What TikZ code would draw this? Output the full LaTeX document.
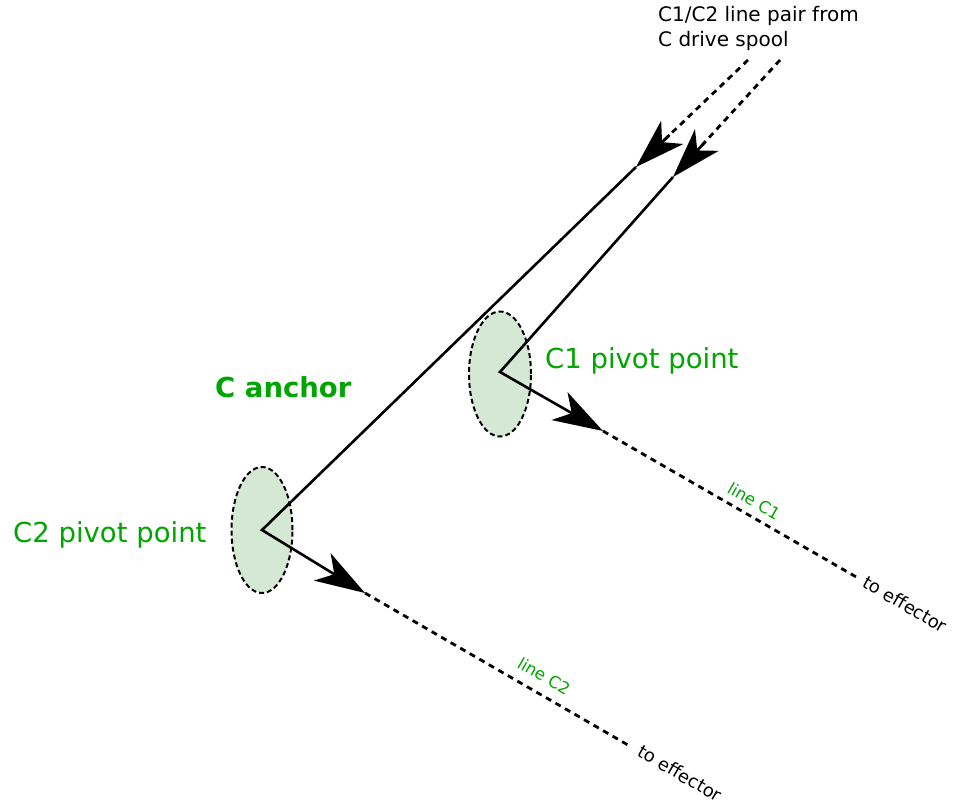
\documentclass[tikz,border=0pt]{standalone}
\usepackage{fontspec}
\setmainfont{DejaVu Sans}
\usetikzlibrary{arrows.meta,shapes.geometric,calc}
\definecolor{tgreen}{RGB}{0,165,0}
\definecolor{efill}{HTML}{D5E8D4}
\begin{document}
\begin{tikzpicture}[x=1pt,y=-1pt,
  pivot/.style={ellipse,draw=black,fill=efill,line width=2pt,dash pattern=on 5pt off 3pt,inner sep=0pt},
  bigtip/.style={-{Stealth[length=50pt,width=32pt,inset=14pt]}},
  cable/.style={line width=2.6pt,line join=miter},
  dotline/.style={line width=2.8pt,dash pattern=on 6pt off 5pt},
  glabel/.style={text=tgreen,font=\fontsize{27.5}{33}\selectfont,inner sep=0pt},
  small/.style={font=\fontsize{16.5}{19}\selectfont,inner sep=0pt,rotate=-30},
  eff/.style={font=\fontsize{18}{21}\selectfont,inner sep=0pt,rotate=-30}]
\useasboundingbox (0,0) rectangle (955,806);

% pivots
\node[pivot,minimum width=62pt,minimum height=125pt] (p1) at (500,374) {};
\node[pivot,minimum width=61pt,minimum height=126pt] (p2) at (262,530) {};

% coordinates
\coordinate (s2) at (748,60);
\coordinate (s1) at (780,60);
\coordinate (a2) at (636,167);
\coordinate (a1) at (673,177);
\coordinate (v1) at (500,372);
\coordinate (v2) at (262,530);
\coordinate (o1) at (603,431);
\coordinate (o2) at (365,593);
\coordinate (e1) at (858,578);
\coordinate (e2) at (628,745);

% incoming dotted lines from spool
\draw[dotline] (s2) -- ($(s2)!0.8!(a2)$);
\draw[dotline] (s1) -- ($(s1)!0.8!(a1)$);
\draw[cable,bigtip] ($(s2)!0.7!(a2)$) -- (a2);
\draw[cable,bigtip] ($(s1)!0.7!(a1)$) -- (a1);

% solid cable paths
\draw[cable,bigtip] (a1) -- (v1) -- (o1);
\draw[cable,bigtip] (a2) -- (v2) -- (o2);

% outgoing dotted lines
\draw[dotline] (o1) -- (e1);
\draw[dotline] (o2) -- (e2);

% texts
\node[anchor=north west,align=left,inner sep=0pt,font=\fontsize{20}{25}\selectfont] (spool) at (658,6) {C1/C2 line pair from\\C drive spool};
\node[glabel,anchor=base west] (l1) at (545,368) {C1 pivot point};
\node[glabel,anchor=base west] (l2) at (13,542) {C2 pivot point};
\node[glabel,anchor=base west,font=\fontsize{27.5}{33}\selectfont\bfseries] (anc) at (215,397) {C anchor};
\node[small,text=tgreen] (lc1) at (754,501) {line C1};
\node[small,text=tgreen] (lc2) at (544,676) {line C2};
\node[eff] (t1) at (905,604) {to effector};
\node[eff] (t2) at (680,773) {to effector};
\end{tikzpicture}
\end{document}
